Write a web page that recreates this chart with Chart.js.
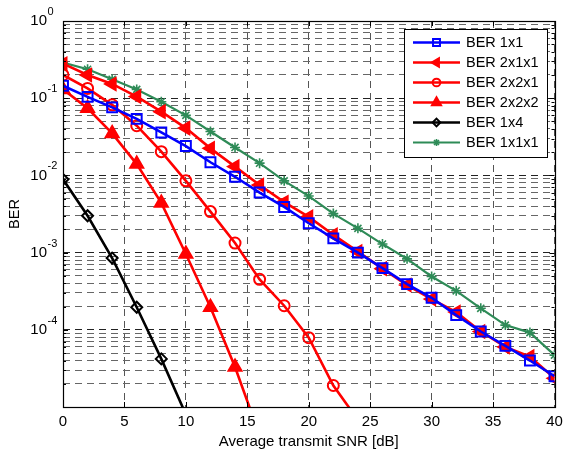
<!DOCTYPE html>
<html>
<head>
<meta charset="utf-8">
<script src="https://cdn.jsdelivr.net/npm/chart.js@4"></script>
<style>
html,body{margin:0;padding:0;background:#fff;}
#wrap{width:564px;height:455px;position:relative;}
</style>
</head>
<body>
<div id="wrap"><canvas id="c" width="564" height="455"></canvas></div>
<script>
// ---- data ----
const snr = [0,2,4,6,8,10,12,14,16,18,20,22,24,26,28,30,32,34,36,38,40];
const ber1x1   = [0.145,0.104,0.076,0.054,0.036,0.024,0.0148,0.0096,0.006,0.0039,0.0024,0.00153,0.001,6.3e-4,3.9e-4,2.6e-4,1.55e-4,9.5e-5,6.2e-5,4.0e-5,2.5e-5];
const ber2x1x1 = [0.28,0.2,0.153,0.105,0.067,0.041,0.0224,0.013,0.0075,0.0045,0.0029,0.0017,0.00103,6.2e-4,3.8e-4,2.5e-4,1.7e-4,9.5e-5,6e-5,4.5e-5,2.35e-5];
const ber2x2x1 = [0.2,0.134,0.082,0.044,0.0203,0.0085,0.0034,0.00133,4.5e-4,2.05e-4,7.9e-5,1.9e-5,6.8e-6];
const ber2x2x2 = [0.13,0.074,0.035,0.014,0.0044,9.6e-4,1.96e-4,3.3e-5,4.3e-6];
const ber1x4   = [0.0089,0.003,8.5e-4,1.96e-4,4.2e-5,8e-6];
const ber1x1x1 = [0.29,0.237,0.176,0.13,0.09,0.06,0.037,0.023,0.0144,0.0085,0.0054,0.0032,0.00206,0.00129,8.3e-4,4.9e-4,3.2e-4,1.9e-4,1.15e-4,9.2e-5,4.7e-5];
const seriesNames = ['BER 1x1','BER 2x1x1','BER 2x2x1','BER 2x2x2','BER 1x4','BER 1x1x1'];
const xTicks = [0,5,10,15,20,25,30,35,40];
const yExponents = [0,-1,-2,-3,-4];

const pts = arr => arr.map((v,i)=>({x:snr[i], y:v}));
const FONT = 'Arial, "Liberation Sans", Helvetica, sans-serif';

function ds(label, data, color, style, radius, opts){
  return Object.assign({
    label, data: pts(data), borderColor: color, backgroundColor: color,
    borderWidth: 2.6, pointStyle: style, pointRadius: radius,
    pointBorderColor: color, pointBackgroundColor: 'rgba(0,0,0,0)',
    pointBorderWidth: 2, pointHoverRadius: radius, tension: 0, fill: false
  }, opts||{});
}

const datasets = [
  ds(seriesNames[0], ber1x1, '#0000ff', 'rect', 7),
  ds(seriesNames[1], ber2x1x1, '#ff0000', 'triangle', 7, {pointRotation: -90, pointBackgroundColor:'#ff0000'}),
  ds(seriesNames[2], ber2x2x1, '#ff0000', 'circle', 5.5),
  ds(seriesNames[3], ber2x2x2, '#ff0000', 'triangle', 7.5, {pointBackgroundColor:'#ff0000'}),
  ds(seriesNames[4], ber1x4, '#000000', 'rectRot', 5.5),
  ds(seriesNames[5], ber1x1x1, '#2e8b57', 'star', 5, {borderWidth: 2.2, pointBorderWidth: 1.6})
];

const yTickVals = [];
for (let e=-5; e<=0; e++){
  for (let m=1; m<=9; m++){
    const v = m*Math.pow(10,e);
    if (v <= 1.0000001) yTickVals.push(v);
  }
}
function isMajor(v){ const l=Math.log10(v); return Math.abs(l-Math.round(l))<1e-6; }

const decorPlugin = {
  id: 'decor',
  afterDraw(chart){
    const ctx = chart.ctx, a = chart.chartArea;
    const xs = chart.scales.x, ys = chart.scales.y;
    ctx.save();
    // inward tick marks
    ctx.strokeStyle = '#000'; ctx.lineWidth = 1; ctx.setLineDash([]);
    ctx.beginPath();
    xTicks.forEach(t=>{
      const px = Math.round(xs.getPixelForValue(t))+0.5;
      ctx.moveTo(px, a.bottom); ctx.lineTo(px, a.bottom-5);
      ctx.moveTo(px, a.top); ctx.lineTo(px, a.top+5);
    });
    yTickVals.forEach(v=>{
      const py = Math.round(ys.getPixelForValue(v))+0.5;
      const L = isMajor(v)?5:3;
      ctx.moveTo(a.left, py); ctx.lineTo(a.left+L, py);
      ctx.moveTo(a.right, py); ctx.lineTo(a.right-L, py);
    });
    ctx.stroke();
    // box
    ctx.lineWidth = 1.2;
    ctx.strokeRect(Math.round(a.left)+0.5, Math.round(a.top)+0.5, Math.round(a.right-a.left), Math.round(a.bottom-a.top));
    // y tick labels with exponents
    ctx.fillStyle = '#000';
    ctx.textBaseline = 'middle';
    yExponents.forEach(e=>{
      const py = ys.getPixelForValue(Math.pow(10,e));
      ctx.textAlign = 'right';
      ctx.font = '15px ' + FONT;
      ctx.fillText('10', 47, py);
      ctx.textAlign = 'left';
      ctx.font = '11px ' + FONT;
      ctx.fillText(String(e), 47.5, py-9);
    });
    // legend
    const lx = 404, ly = 29, lw = 143, lh = 128;
    ctx.fillStyle = '#fff';
    ctx.fillRect(lx, ly, lw, lh);
    ctx.strokeStyle = '#000'; ctx.lineWidth = 1;
    ctx.strokeRect(lx+0.5, ly+0.5, lw, lh);
    chart.data.datasets.forEach((d,i)=>{
      const y = 42.5 + i*20;
      ctx.strokeStyle = d.borderColor; ctx.lineWidth = d.borderWidth;
      ctx.beginPath(); ctx.moveTo(413, y); ctx.lineTo(460, y); ctx.stroke();
      ctx.lineWidth = d.pointBorderWidth;
      ctx.fillStyle = d.pointBackgroundColor;
      const st = {pointStyle: d.pointStyle, rotation: d.pointRotation||0, radius: d.pointRadius*0.7, borderWidth: d.pointBorderWidth};
      ctx.strokeStyle = d.pointBorderColor;
      Chart.helpers.drawPoint(ctx, st, 436.5, y);
      ctx.fillStyle = '#000';
      ctx.font = '14.5px ' + FONT;
      ctx.textAlign = 'left'; ctx.textBaseline = 'middle';
      ctx.fillText(d.label, 466, y+0.5);
    });
    ctx.restore();
  }
};

new Chart(document.getElementById('c'), {
  type: 'line',
  data: { datasets },
  options: {
    responsive: false,
    animation: false,
    events: [],
    layout: { padding: { top: 21, right: 9, left: 0, bottom: 0 } },
    plugins: { legend: { display: false }, tooltip: { enabled: false } },
    scales: {
      x: {
        type: 'linear', min: 0, max: 40,
        afterBuildTicks: s => { s.ticks = xTicks.map(v=>({value:v})); },
        afterFit: s => { s.height = 48; s.paddingLeft = 0; s.paddingRight = 0; },
        ticks: { autoSkip: false, padding: 6, color: '#000', font: { family: FONT, size: 15 } },
        grid: { drawTicks: false, color: '#555', lineWidth: 1 },
        border: { display: false, dash: [7,5] },
        title: { display: true, text: 'Average transmit SNR [dB]', color: '#000', font: { family: FONT, size: 15 }, padding: { top: 0, bottom: 4 } }
      },
      y: {
        type: 'logarithmic', min: 1e-5, max: 1,
        afterBuildTicks: s => { s.ticks = yTickVals.map(v=>({value:v, major:isMajor(v)})); },
        afterFit: s => { s.width = 63; s.paddingTop = 0; s.paddingBottom = 0; },
        ticks: { autoSkip: false, callback: () => '', color: '#000' },
        grid: { drawTicks: false, color: ctx => (ctx.tick && isMajor(ctx.tick.value)) ? '#222' : '#666', lineWidth: 1 },
        border: { display: false, dash: [7,5] },
        title: { display: true, text: 'BER', color: '#000', font: { family: FONT, size: 14.5 }, padding: { top: 6, bottom: 0 } }
      }
    }
  },
  plugins: [decorPlugin]
});
</script>
</body>
</html>
